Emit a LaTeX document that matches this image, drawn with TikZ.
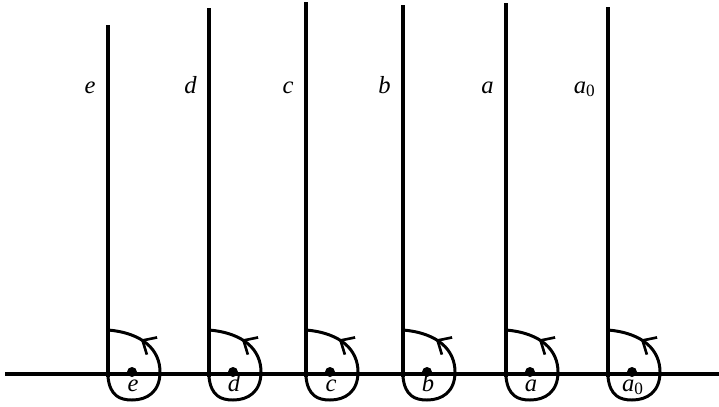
\documentclass[tikz,border=0pt]{standalone}
\usepackage{fontspec}
\setmainfont{Liberation Serif}
\usetikzlibrary{arrows.meta,decorations.markings}
\begin{document}
\begin{tikzpicture}[x=0.02cm, y=-0.02cm,
        strand/.style={line width=1.8pt},
        lasso/.style={line width=1.7pt, postaction={decorate},
            decoration={markings, mark=at position 0.78 with {\arrow{Straight Barb[length=2.2mm, width=4mm, line width=1.5pt]}}}},
        point/.style={circle, fill, inner sep=0pt, minimum size=2mm},
        letter/.style={font=\fontsize{14}{16}\selectfont\itshape, inner sep=0pt}
    ]
        \useasboundingbox (0,0) rectangle (719,406);
        \coordinate (left) at (5,374);
        \coordinate (right) at (719,374);
        \draw[strand] (left) -- (right);
        \foreach \x/\top/\lbl [count=\i] in {108/25/e, 209/8/d, 306/2/c, 403/5/b, 506/3/a, 608/7/{a\textsubscript{\upshape 0}}} {
            \coordinate (top\i) at (\x,\top);
            \coordinate (foot\i) at (\x,377);
            \coordinate (knot\i) at (\x,330);
            \draw[strand] (top\i) -- (foot\i);
            \draw[lasso] (foot\i) .. controls ({\x+2},396) and ({\x+12},400) .. ({\x+24},400)
                .. controls ({\x+39},400) and ({\x+52},392) .. ({\x+52},372)
                .. controls ({\x+52},350) and ({\x+35},333) .. (knot\i);
            \node[point] (pt\i) at ({\x+24},372) {};
            \node[letter, anchor=base] (sub\i) at ({\x+25},391) {\lbl};
            \node[letter, anchor=base east] (tag\i) at ({\x-12},93) {\lbl};
        }
    \end{tikzpicture}
\end{document}
